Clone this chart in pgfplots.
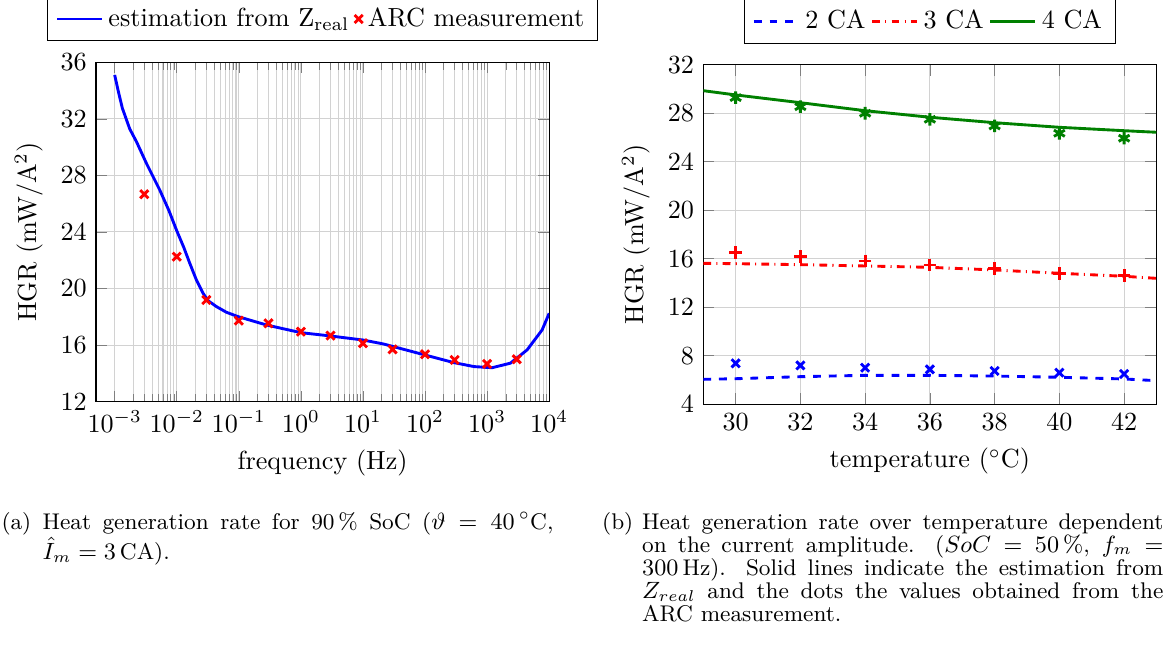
\documentclass[border=0pt]{standalone}
\usepackage{pgfplots}
\pgfplotsset{compat=1.18}
\definecolor{dkgreen}{RGB}{0,128,0}
\begin{document}
\begin{tikzpicture}[x=0.3824pt,y=0.3824pt]
\useasboundingbox (0,0) rectangle (1168,652);
\pgfplotsset{every axis/.append style={scale only axis, width=173.3pt, height=129.8pt, anchor=south west,
  grid style={gray!35, line width=0.4pt},
  legend style={draw=black, fill=white, legend columns=-1, at={(0.5,1)}, anchor=south, yshift=8pt}}}
\begin{axis}[at={(36.71pt,95.72pt)},
  xmode=log, xmin=5e-4, xmax=1e4, ymin=12, ymax=36,
  xtick={1e-3,1e-2,1e-1,1,10,100,1000,10000},
  ytick={12,16,...,36}, grid=both,
  xlabel={frequency (Hz)}, ylabel={HGR (mW/A$^2$)}]
\addplot[blue, line width=1.1pt] coordinates {
(1e-3,35.1) (1.15e-3,33.9) (1.33e-3,32.75) (1.746e-3,31.29) (2.24e-3,30.39) (3.24e-3,28.86)
(5.32e-3,26.97) (7.5e-3,25.5) (9.89e-3,24.14) (0.0130,22.9) (0.0162,21.79) (0.0207,20.61)
(0.0265,19.67) (0.032,19.14) (0.0437,18.72) (0.0632,18.32)
(0.0977,18.01) (0.28,17.42) (1,16.88) (2.94,16.65) (10,16.36) (21.4,16.08)
(100,15.30) (292,14.76) (617,14.48) (1202,14.40) (2371,14.72) (4406,15.66)
(7691,17.07) (1e4,18.25)};
\addlegendentry{estimation from $\mathrm{Z_{real}}$}
\addplot[only marks, red, mark=x, mark size=2.2pt, mark options={line width=1.1pt}] coordinates {
(3e-3,26.67) (1e-2,22.25) (3e-2,19.19) (0.1,17.73) (0.3,17.54) (1,16.95) (3,16.67)
(10,16.13) (30,15.70) (100,15.35) (300,14.95) (1000,14.67) (3000,15.0)};
\addlegendentry{ARC measurement}
\end{axis}
\begin{axis}[at={(268.94pt,94.76pt)},
  xmin=29, xmax=43, ymin=4, ymax=32,
  xtick={30,32,...,42}, ytick={4,8,...,32}, grid=major,
  xlabel={temperature ($^\circ$C)}, ylabel={HGR (mW/A$^2$)}]
\addplot[blue, dashed, line width=1.1pt] coordinates {
(29,6.05) (30,6.10) (32,6.27) (34,6.38) (36,6.38) (38,6.32) (40,6.22) (42,6.08) (43,5.94)};
\addlegendentry{2 CA}
\addplot[red, dash dot, line width=1.1pt] coordinates {
(29,15.62) (30,15.59) (32,15.51) (34,15.40) (36,15.29) (38,15.07) (40,14.80) (42,14.55) (43,14.38)};
\addlegendentry{3 CA}
\addplot[dkgreen, line width=1.1pt] coordinates {
(29,29.86) (30,29.51) (32,28.87) (34,28.21) (36,27.67) (38,27.22) (40,26.84) (42,26.56) (43,26.43)};
\addlegendentry{4 CA}
\addplot[forget plot, only marks, blue, mark=x, mark size=2.2pt, mark options={line width=1.1pt}] coordinates {
(30,7.37) (32,7.20) (34,7.01) (36,6.87) (38,6.74) (40,6.60) (42,6.49)};
\addplot[forget plot, only marks, red, mark=+, mark size=2.4pt, mark options={line width=1.1pt}] coordinates {
(30,16.50) (32,16.17) (34,15.81) (36,15.48) (38,15.18) (40,14.80) (42,14.60)};
\addplot[forget plot, only marks, dkgreen, mark=asterisk, mark size=2.4pt, mark options={line width=1.1pt}] coordinates {
(30,29.29) (32,28.54) (34,28.00) (36,27.50) (38,26.95) (40,26.35) (42,25.94)};
\end{axis}
\tikzset{mycap/.style={anchor=base west, inner sep=0pt, align=justify, font=\fontsize{8.67}{8.8}\selectfont}}
\node[mycap] at (1,122.7) {(a)};
\node[mycap, text width=195.4pt] at (42,122.7)
 {Heat generation rate for 90\,\% SoC ($\vartheta=40\,^\circ$C, $\hat{I}_m=3\,$CA).};
\node[mycap] at (601.7,122.7) {(b)};
\node[mycap, text width=199.3pt] at (641.7,122.7)
 {Heat generation rate over temperature dependent on the current amplitude. ($SoC=50\,\%$, $f_m=300\,$Hz). Solid lines indicate the estimation from $Z_{real}$ and the dots the values obtained from the ARC measurement.};
\end{tikzpicture}
\end{document}
